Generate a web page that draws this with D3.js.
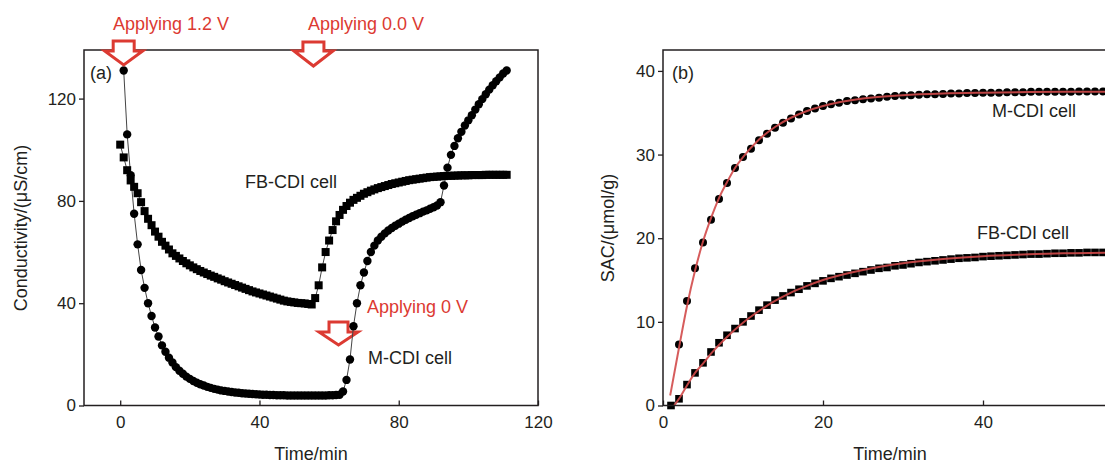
<!DOCTYPE html>
<html>
<head>
<meta charset="utf-8">
<script src="https://cdn.jsdelivr.net/npm/d3@7/dist/d3.min.js"></script>
<style>
  body { margin: 0; background: #fff; }
  svg { display: block; font-family: "Liberation Sans", Arial, sans-serif; }
  .axis text { font-size: 17px; fill: #231f20; }
  .axis line { stroke: #231f20; stroke-width: 1.3; }
</style>
</head>
<body>
<script>
// ---- Panel (a): conductivity vs time, sampled every minute
const fbTime = d3.range(0, 112);
const fbCond = [102, 97, 92, 88, 85.5, 83, 79.5, 76, 73, 70.5,
  68, 66, 64, 62.5, 61, 59.5, 58.5, 57.5, 56.5, 55.6,
  54.8, 54, 53.3, 52.6, 52, 51.4, 50.8, 50.3, 49.7, 49.2,
  48.6, 48.1, 47.6, 47.1, 46.6, 46.1, 45.6, 45.1, 44.6, 44.2,
  43.8, 43.4, 43, 42.6, 42.2, 41.8, 41.4, 41, 40.7, 40.5,
  40.3, 40.1, 40, 39.9, 39.7, 39.5, 42, 47, 54, 60,
  64.5, 68.6, 72, 74.5, 76.5, 78, 79.3, 80.4, 81.2, 82,
  82.8, 83.4, 84, 84.5, 85, 85.4, 85.8, 86.2, 86.6, 86.9,
  87.2, 87.5, 87.8, 88.1, 88.3, 88.5, 88.7, 88.9, 89.1, 89.3,
  89.4, 89.5, 89.6, 89.7, 89.8, 89.8, 89.9, 89.9, 90, 90,
  90, 90.1, 90.1, 90.1, 90.1, 90.2, 90.2, 90.2, 90.2, 90.2,
  90.2, 90.2];

const mTime = d3.range(1, 112);
const mCond = [131, 106, 90, 75, 63, 53, 46, 40, 35, 30.5,
  27, 23.5, 21, 18.7, 16.8, 15, 13.6, 12.4, 11.3, 10.4,
  9.6, 8.9, 8.3, 7.8, 7.3, 6.9, 6.5, 6.2, 5.9, 5.7,
  5.5, 5.3, 5.1, 5.0, 4.8, 4.7, 4.6, 4.5, 4.4, 4.3,
  4.2, 4.2, 4.1, 4.1, 4.0, 4.0, 4.0, 3.9, 3.9, 3.9,
  3.9, 3.9, 3.9, 3.9, 3.9, 3.9, 3.9, 3.9, 3.9, 4.0,
  4.0, 4.1, 4.2, 5.5, 10, 18, 31, 40, 47, 52,
  56.5, 60, 62.5, 64.5, 66, 67.3, 68.4, 69.4, 70.3, 71.1,
  71.9, 72.6, 73.3, 74, 74.6, 75.2, 75.8, 76.3, 76.9, 77.5,
  78.2, 79.5, 86, 93, 98, 101.5, 104.5, 107, 109.5, 111.5,
  113.5, 115.7, 117.8, 119.8, 121.7, 123.5, 125.2, 126.8, 128.3, 129.8,
  131];

const condTicks = [0, 40, 80, 120];
const timeTicksA = [0, 40, 80, 120];

// voltage switching marks in panel (a)
const switchTimes = [1, 55.5, 62.7];
const switchLabels = ["Applying 1.2 V", "Applying 0.0 V", "Applying 0 V"];

// ---- Panel (b): SAC vs time
const sacMTime = d3.range(2, 57);
const sacM = [7.3, 12.5, 16.4, 19.5, 22.2, 24.7, 26.6, 28.4, 29.7, 30.7,
  31.7, 32.5, 33.2, 33.8, 34.3, 34.8, 35.2, 35.5, 35.8, 36.0,
  36.2, 36.4, 36.5, 36.6, 36.7, 36.8, 36.9, 37.0, 37.05, 37.1,
  37.15, 37.2, 37.2, 37.25, 37.3, 37.3, 37.35, 37.35, 37.4, 37.4,
  37.4, 37.45, 37.45, 37.45, 37.5, 37.5, 37.5, 37.5, 37.5, 37.5,
  37.55, 37.55, 37.55, 37.55, 37.55];

const sacFbTime = d3.range(1, 57);
const sacFb = [0, 0.8, 2.5, 3.9, 5.1, 6.4, 7.5, 8.4, 9.2, 10,
  10.7, 11.4, 12, 12.6, 13.1, 13.5, 13.9, 14.3, 14.6, 14.9,
  15.2, 15.4, 15.6, 15.8, 16, 16.2, 16.4, 16.5, 16.7, 16.8,
  16.95, 17.1, 17.2, 17.3, 17.4, 17.5, 17.6, 17.65, 17.7, 17.8,
  17.85, 17.9, 17.95, 18, 18.05, 18.1, 18.1, 18.15, 18.2, 18.2,
  18.25, 18.25, 18.3, 18.3, 18.3, 18.3];

// fitted curves (red)
const fitMTime = [0.9, 2, 3, 4, 5, 6, 7, 8, 9, 10, 12, 14, 16, 18, 20, 25, 30, 35, 40, 50, 60];
const fitM = [1.2, 6.9, 11.9, 16.1, 19.6, 22.4, 24.8, 26.7, 28.4, 29.7, 31.8, 33.3, 34.4, 35.2, 35.8, 36.7, 37.1, 37.3, 37.4, 37.5, 37.5];
const fitFbTime = [1.4, 2, 3, 4, 5, 6, 8, 10, 12, 14, 16, 18, 20, 25, 30, 35, 40, 45, 50, 55, 60];
const fitFb = [0, 0.8, 2.4, 3.9, 5.0, 6.2, 8.2, 9.9, 11.3, 12.5, 13.5, 14.3, 15.0, 16.2, 17.0, 17.5, 17.85, 18.05, 18.2, 18.25, 18.3];

const sacTicks = [0, 10, 20, 30, 40];
const timeTicksB = [0, 20, 40];

const red = "#dc3a32";
const ink = "#231f20";

const svg = d3.select("body").append("svg")
  .attr("width", 1105)
  .attr("height", 462);

// ---------- panel (a)
const xA = d3.scaleLinear().domain([-10.4, 120]).range([84, 538]);
const yA = d3.scaleLinear().domain([0, 139]).range([405.5, 50]);

const gA = svg.append("g");

gA.append("g").attr("class", "axis")
  .attr("transform", `translate(84,0)`)
  .call(d3.axisLeft(yA).tickValues(condTicks).tickSize(5).tickPadding(3))
  .call(g => g.select(".domain").remove());
gA.append("g").attr("class", "axis")
  .attr("transform", `translate(0,405.5)`)
  .call(d3.axisBottom(xA).tickValues(timeTicksA).tickSizeInner(-5).tickSizeOuter(0).tickPadding(10))
  .call(g => g.select(".domain").remove());

// hollow arrow for "Applying 0 V" sits under the data
function arrow(g, cx, top, sw, hw, h1, tip) {
  g.append("path")
    .attr("d", `M${cx - sw},${top}L${cx + sw},${top}L${cx + sw},${h1}L${cx + hw},${h1}L${cx},${tip}L${cx - hw},${h1}L${cx - sw},${h1}Z`)
    .attr("fill", "#fff")
    .attr("stroke", red)
    .attr("stroke-width", 3)
    .attr("stroke-linejoin", "miter");
}
arrow(gA, xA(switchTimes[2]), 322, 9.5, 19.5, 332, 345);

const lineA = d3.line().x(d => xA(d[0])).y(d => yA(d[1]));
const fbPts = fbTime.map((t, i) => [t, fbCond[i]]);
const mPts = mTime.map((t, i) => [t, mCond[i]]);

gA.append("path").attr("d", lineA(fbPts)).attr("fill", "none").attr("stroke", "#444").attr("stroke-width", 1);
gA.append("path").attr("d", lineA(mPts)).attr("fill", "none").attr("stroke", "#444").attr("stroke-width", 1);

gA.selectAll(".sq").data(fbPts).join("rect")
  .attr("x", d => xA(d[0]) - 4)
  .attr("y", d => yA(d[1]) - 4)
  .attr("width", 8).attr("height", 8)
  .attr("fill", "#000");
gA.selectAll(".ci").data(mPts).join("circle")
  .attr("cx", d => xA(d[0]))
  .attr("cy", d => yA(d[1]))
  .attr("r", 4.2)
  .attr("fill", "#000");

gA.append("rect")
  .attr("x", 84).attr("y", 50)
  .attr("width", 454).attr("height", 355.5)
  .attr("fill", "none").attr("stroke", ink).attr("stroke-width", 1.5);

arrow(gA, xA(switchTimes[0]), 41, 10.5, 19, 51, 65);
arrow(gA, xA(switchTimes[1]), 42, 10.5, 19.5, 51, 66);

const txt = (g, x, y, s, col, size) => g.append("text")
  .attr("x", x).attr("y", y)
  .attr("fill", col).attr("font-size", size || 18)
  .text(s);

txt(gA, 113, 29.5, switchLabels[0], red);
txt(gA, 308, 29.5, switchLabels[1], red);
txt(gA, 367, 313, switchLabels[2], red);
txt(gA, 245, 187.5, "FB-CDI cell", ink);
txt(gA, 368, 363.5, "M-CDI cell", ink);
txt(gA, 90, 78.5, "(a)", ink);

gA.append("text")
  .attr("x", 311).attr("y", 459.5)
  .attr("text-anchor", "middle")
  .attr("font-size", 18).attr("fill", ink)
  .text("Time/min");
gA.append("text")
  .attr("transform", "translate(27,228) rotate(-90)")
  .attr("text-anchor", "middle")
  .attr("font-size", 18).attr("fill", ink)
  .text("Conductivity/(μS/cm)");

// ---------- panel (b)
const xB = d3.scaleLinear().domain([0, 60]).range([663, 1143]);
const yB = d3.scaleLinear().domain([0, 42.5]).range([405.5, 50]);

const gB = svg.append("g");

gB.append("g").attr("class", "axis")
  .attr("transform", `translate(663,0)`)
  .call(d3.axisLeft(yB).tickValues(sacTicks).tickSize(5).tickPadding(3))
  .call(g => g.select(".domain").remove());
gB.append("g").attr("class", "axis")
  .attr("transform", `translate(0,405.5)`)
  .call(d3.axisBottom(xB).tickValues(timeTicksB).tickSizeInner(-5).tickSizeOuter(0).tickPadding(10))
  .call(g => g.select(".domain").remove());

const lineB = d3.line().x(d => xB(d[0])).y(d => yB(d[1])).curve(d3.curveMonotoneX);

gB.selectAll(".sqb").data(sacFbTime.map((t, i) => [t, sacFb[i]])).join("rect")
  .attr("x", d => xB(d[0]) - 3.8)
  .attr("y", d => yB(d[1]) - 3.8)
  .attr("width", 7.6).attr("height", 7.6)
  .attr("fill", "#000");
gB.selectAll(".cib").data(sacMTime.map((t, i) => [t, sacM[i]])).join("circle")
  .attr("cx", d => xB(d[0]))
  .attr("cy", d => yB(d[1]))
  .attr("r", 4)
  .attr("fill", "#000");

gB.append("path").attr("d", lineB(fitMTime.map((t, i) => [t, fitM[i]])))
  .attr("fill", "none").attr("stroke", "#d24a4a").attr("stroke-width", 2).attr("stroke-opacity", 0.9);
gB.append("path").attr("d", lineB(fitFbTime.map((t, i) => [t, fitFb[i]])))
  .attr("fill", "none").attr("stroke", "#d24a4a").attr("stroke-width", 2).attr("stroke-opacity", 0.9);

gB.append("rect")
  .attr("x", 663).attr("y", 50)
  .attr("width", 480).attr("height", 355.5)
  .attr("fill", "none").attr("stroke", ink).attr("stroke-width", 1.5);

txt(gB, 672, 78.5, "(b)", ink);
txt(gB, 992, 117, "M-CDI cell", ink);
txt(gB, 977, 238.5, "FB-CDI cell", ink);

gB.append("text")
  .attr("x", 890).attr("y", 459.5)
  .attr("text-anchor", "middle")
  .attr("font-size", 18).attr("fill", ink)
  .text("Time/min");
gB.append("text")
  .attr("transform", "translate(614,228) rotate(-90)")
  .attr("text-anchor", "middle")
  .attr("font-size", 18).attr("fill", ink)
  .text("SAC/(μmol/g)");
</script>
</body>
</html>
